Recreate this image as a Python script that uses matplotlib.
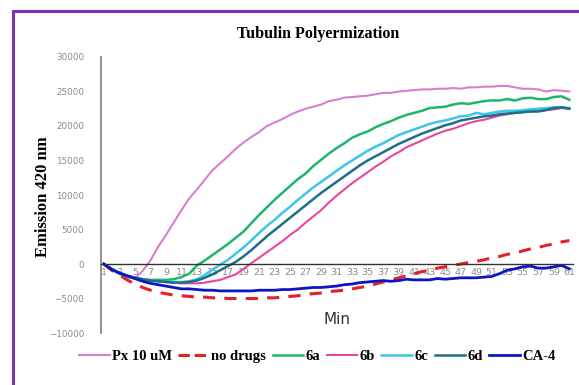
import numpy as np
import matplotlib
matplotlib.use("Agg")
import matplotlib.pyplot as plt
from matplotlib.lines import Line2D

# Minutes 1..61
minutes = np.arange(1, 62)

px_10um = [0, -700, -1400, -1900, -2100, -1000, 500, 2500, 4200, 6000,
           7800, 9500, 10800, 12200, 13600, 14600, 15600, 16700, 17600, 18400,
           19100, 20000, 20500, 21000, 21600, 22100, 22500, 22800, 23100, 23600,
           23800, 24100, 24200, 24300, 24400, 24600, 24800, 24800, 25000, 25100,
           25200, 25300, 25300, 25400, 25400, 25500, 25400, 25600, 25600, 25700,
           25700, 25800, 25800, 25600, 25400, 25400, 25300, 25000, 25200, 25100,
           25000]

no_drugs = [0, -900, -1600, -2300, -2900, -3400, -3800, -4100, -4300, -4500,
            -4600, -4700, -4800, -4800, -4900, -4900, -5000, -5000, -5000, -5000,
            -5000, -4900, -4900, -4800, -4700, -4600, -4400, -4300, -4200, -4000,
            -3900, -3800, -3600, -3400, -3200, -2900, -2600, -2300, -2000, -1700,
            -1400, -1100, -900, -600, -400, -200, 0, 200, 400, 600,
            900, 1100, 1400, 1600, 1900, 2200, 2400, 2700, 2900, 3200,
            3400]

c6a = [0, -800, -1400, -1800, -2100, -2200, -2300, -2300, -2300, -2200,
       -1900, -1400, -200, 500, 1300, 2100, 2900, 3800, 4700, 5900,
       7100, 8200, 9300, 10300, 11300, 12300, 13100, 14200, 15100, 16000,
       16800, 17500, 18300, 18800, 19200, 19800, 20300, 20700, 21200, 21600,
       21900, 22200, 22600, 22700, 22800, 23100, 23300, 23200, 23400, 23600,
       23700, 23700, 23900, 23700, 24000, 24100, 23900, 23900, 24200, 24300,
       23800]

c6b = [0, -700, -1300, -1700, -2000, -2200, -2400, -2500, -2600, -2700,
       -2800, -2800, -2800, -2700, -2500, -2300, -1900, -1500, -700, 100,
       900, 1700, 2500, 3300, 4200, 5000, 6000, 6900, 7800, 8900,
       9900, 10800, 11700, 12500, 13300, 14100, 14800, 15600, 16200, 16900,
       17400, 17900, 18400, 18900, 19300, 19600, 20000, 20400, 20700, 20900,
       21200, 21500, 21700, 21900, 22000, 22100, 22200, 22300, 22400, 22600,
       22500]

c6c = [0, -700, -1300, -1700, -2000, -2200, -2400, -2500, -2600, -2600,
       -2600, -2500, -2200, -1600, -800, -100, 600, 1500, 2400, 3400,
       4500, 5500, 6400, 7400, 8300, 9300, 10200, 11100, 11900, 12700,
       13500, 14300, 15000, 15700, 16400, 17000, 17500, 18100, 18700, 19100,
       19500, 19900, 20300, 20600, 20800, 21100, 21400, 21500, 21900, 21700,
       21900, 22100, 22200, 22200, 22300, 22400, 22500, 22600, 22700, 22700,
       22600]

c6d = [0, -700, -1300, -1700, -2000, -2200, -2400, -2500, -2600, -2700,
       -2700, -2600, -2400, -2000, -1500, -900, -300, 300, 1100, 2000,
       3000, 4000, 4900, 5800, 6700, 7600, 8500, 9400, 10300, 11100,
       11900, 12700, 13500, 14300, 15000, 15600, 16200, 16800, 17400, 17900,
       18400, 18900, 19300, 19700, 20100, 20400, 20800, 21000, 21200, 21400,
       21500, 21700, 21800, 21900, 22000, 22100, 22100, 22300, 22600, 22700,
       22500]

ca4 = [0, -800, -1300, -1700, -2100, -2500, -2800, -3000, -3200, -3400,
       -3600, -3600, -3700, -3800, -3800, -3900, -3900, -3900, -3900, -3900,
       -3800, -3800, -3800, -3700, -3700, -3600, -3500, -3400, -3400, -3300,
       -3200, -3000, -2900, -2700, -2600, -2500, -2400, -2500, -2400, -2200,
       -2300, -2300, -2300, -2100, -2200, -2100, -2000, -2000, -2000, -1900,
       -1800, -1400, -900, -700, -400, -300, -600, -600, -400, -200,
       -700]

labels = ["Px 10 uM", "no drugs", "6a", "6b", "6c", "6d", "CA-4"]

serif = "Liberation Serif"

fig = plt.figure(figsize=(5.79, 3.85), dpi=100)
ax = fig.add_axes([0.174, 0.135, 0.816, 0.717])

ax.plot(minutes, px_10um, color="#d77fd0", lw=1.5)
ax.plot(minutes, no_drugs, color="#e4202a", lw=2.2, ls=(0, (4, 3)))
ax.plot(minutes, c6a, color="#1fb56c", lw=1.8)
ax.plot(minutes, c6b, color="#e8479c", lw=1.5)
ax.plot(minutes, c6c, color="#40c4ea", lw=1.8)
ax.plot(minutes, c6d, color="#1d6e88", lw=1.8)
ax.plot(minutes, ca4, color="#0c16c0", lw=2.0)

ax.set_xlim(0.6, 61.5)
ax.set_ylim(-10000, 30000)

# spines: gray left axis, dark line at y = 0
ax.spines["top"].set_visible(False)
ax.spines["right"].set_visible(False)
ax.spines["left"].set_color("#888888")
ax.spines["left"].set_linewidth(1.3)
ax.spines["bottom"].set_position(("data", 0))
ax.spines["bottom"].set_color("#333333")
ax.spines["bottom"].set_linewidth(1.0)

ax.set_xticks(minutes[::2])
ax.set_xticklabels([str(m) for m in minutes[::2]])
ax.tick_params(axis="x", length=0, pad=3, labelsize=6.8, labelcolor="#8a8a8a")
ax.set_yticks(np.arange(-10000, 30001, 5000))
ax.tick_params(axis="y", length=0, pad=12, labelsize=6.3, labelcolor="#8a8a8a")

ax.text(0.5, 0.05, "Min", transform=ax.transAxes, ha="center", va="center",
        fontsize=11, color="#333333", family="DejaVu Sans")

fig.text(0.075, 0.49, "Emission 420 nm", rotation=90, ha="center", va="center",
         fontsize=12, fontweight="bold", family=serif)
fig.text(0.55, 0.912, "Tubulin Polyermization", ha="center", va="center",
         fontsize=11.5, fontweight="bold", family=serif)

handles = [Line2D([], [], color=l.get_color(), lw=l.get_linewidth(),
                  ls=l.get_linestyle()) for l in ax.get_lines()]
fig.legend(handles, labels, loc="center", bbox_to_anchor=(0.548, 0.073),
           ncol=7, frameon=False, handlelength=2.1, handletextpad=0.15,
           columnspacing=0.45, prop={"family": serif, "weight": "bold", "size": 10.5})

# purple frame on top and left
fig.add_artist(Line2D([0.022, 0.022], [0.0, 0.971], color="#7a33b8", lw=2.2,
                      transform=fig.transFigure))
fig.add_artist(Line2D([0.022, 1.0], [0.971, 0.971], color="#7a33b8", lw=2.2,
                      transform=fig.transFigure))

fig.savefig("out.png", dpi=100)
